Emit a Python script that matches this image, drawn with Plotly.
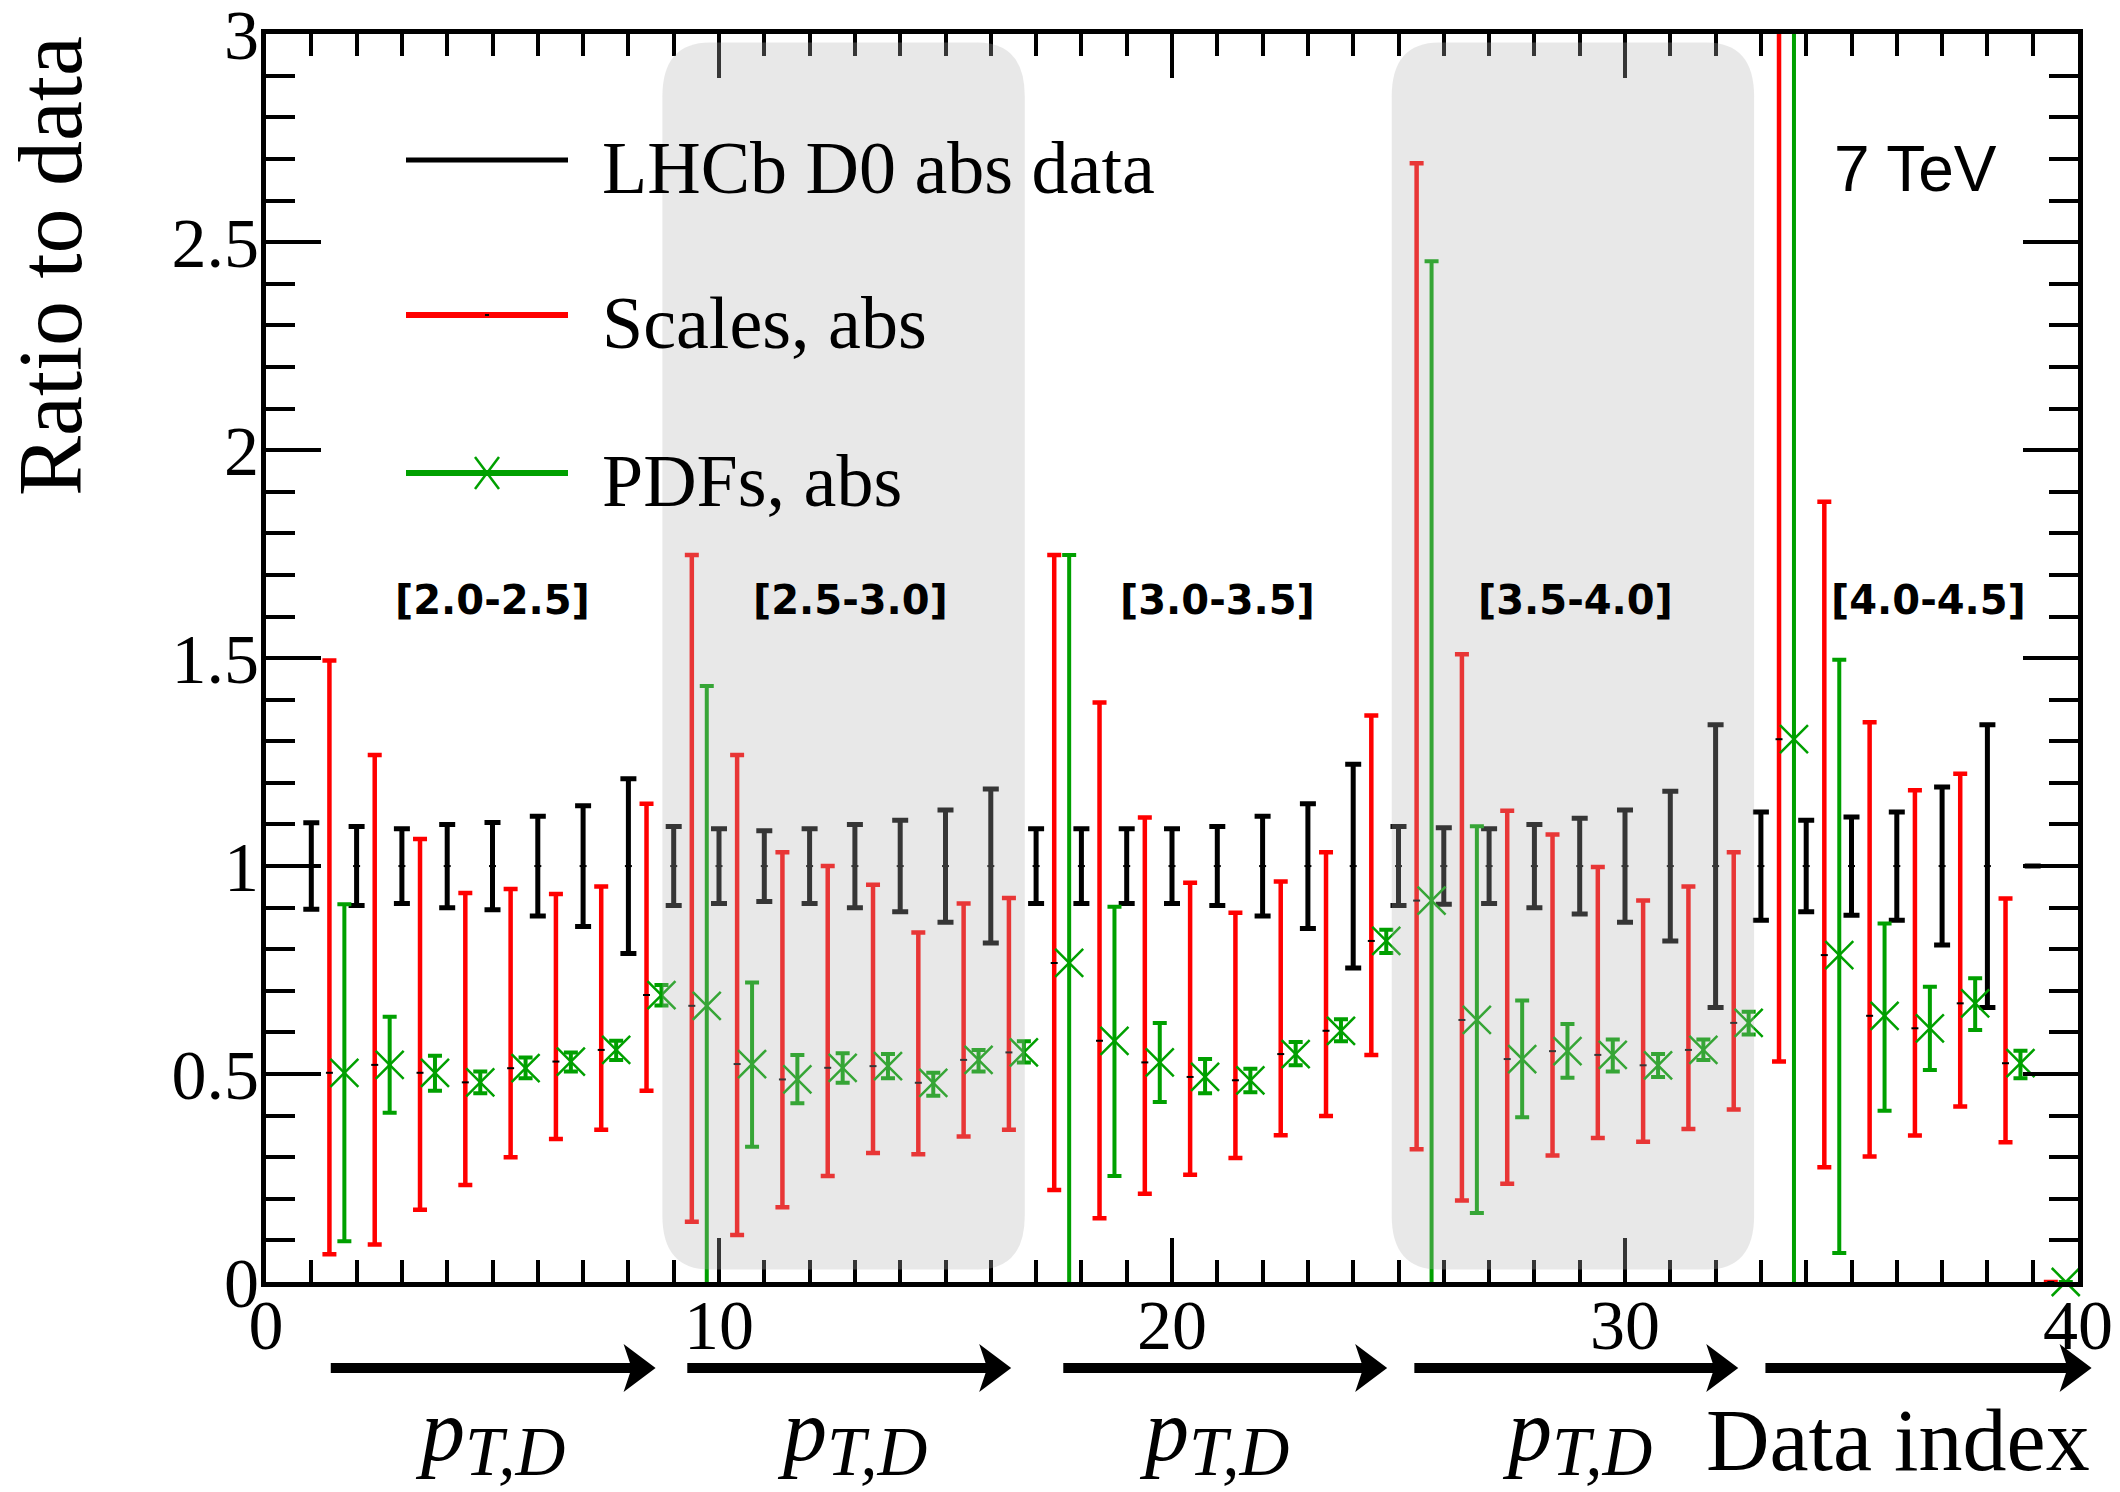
import plotly.graph_objects as go

# ---------------- data ----------------
idx = list(range(1, 40))

data_err = [0.104, 0.095, 0.09, 0.10, 0.105, 0.12, 0.145, 0.21,
            0.095, 0.09, 0.085, 0.09, 0.10, 0.11, 0.135, 0.185,
            0.09, 0.09, 0.09, 0.09, 0.095, 0.12, 0.15, 0.245,
            0.095, 0.092, 0.09, 0.10, 0.115, 0.135, 0.18, 0.34,
            0.13, 0.11, 0.118, 0.13, 0.19, 0.34, 0.0]

central = [0.503, 0.522, 0.503, 0.480, 0.514, 0.530, 0.558, 0.690,
           0.664, 0.524, 0.487, 0.515, 0.519, 0.479, 0.534, 0.552,
           0.767, 0.580, 0.528, 0.493, 0.485, 0.548, 0.604, 0.820,
           0.917, 0.630, 0.536, 0.555, 0.546, 0.521, 0.558, 0.623,
           1.305, 0.786, 0.640, 0.610, 0.670, 0.526, 0.0]

scale_hi = [1.494, 1.267, 1.065, 0.935, 0.945, 0.933, 0.951, 1.150,
            1.748, 1.267, 1.033, 1.000, 0.955, 0.840, 0.910, 0.923,
            1.748, 1.393, 1.117, 0.960, 0.888, 0.963, 1.033, 1.362,
            2.690, 1.509, 1.133, 1.076, 0.998, 0.917, 0.951, 1.033,
            3.500, 1.876, 1.346, 1.182, 1.222, 0.922, 0.0]
scale_lo = [0.067, 0.090, 0.174, 0.233, 0.300, 0.344, 0.366, 0.460,
            0.145, 0.113, 0.180, 0.255, 0.310, 0.307, 0.350, 0.366,
            0.221, 0.153, 0.212, 0.258, 0.298, 0.353, 0.399, 0.546,
            0.319, 0.196, 0.236, 0.304, 0.346, 0.337, 0.368, 0.415,
            0.530, 0.276, 0.302, 0.352, 0.422, 0.336, 0.0]

pdf_hi = [0.908, 0.638, 0.544, 0.506, 0.540, 0.552, 0.580, 0.714,
          1.433, 0.720, 0.546, 0.550, 0.548, 0.503, 0.558, 0.579,
          1.748, 0.902, 0.623, 0.536, 0.513, 0.577, 0.632, 0.847,
          2.454, 1.096, 0.677, 0.620, 0.583, 0.548, 0.583, 0.650,
          3.500, 1.496, 0.862, 0.710, 0.730, 0.556, 0.0]
pdf_lo = [0.098, 0.407, 0.460, 0.454, 0.490, 0.506, 0.534, 0.665,
          -0.10, 0.325, 0.430, 0.479, 0.490, 0.448, 0.506, 0.528,
          -0.10, 0.255, 0.433, 0.454, 0.456, 0.521, 0.579, 0.791,
          -0.10, 0.166, 0.396, 0.491, 0.506, 0.493, 0.534, 0.595,
          -0.10, 0.070, 0.412, 0.510, 0.606, 0.490, 0.0]

bin_labels = ["[2.0-2.5]", "[2.5-3.0]", "[3.0-3.5]", "[3.5-4.0]", "[4.0-4.5]"]
legend_names = ["LHCb D0 abs data", "Scales, abs", "PDFs, abs"]
y_tick_vals = [0, 0.5, 1, 1.5, 2, 2.5, 3]
y_tick_text = ["0", "0.5", "1", "1.5", "2", "2.5", "3"]
x_tick_vals = [0, 10, 20, 30, 40]
x_tick_text = ["0", "10", "20", "30", "40"]

# ---------------- layout constants ----------------
RED = "#ff0000"
GREEN = "#00a000"
SERIF = "Liberation Serif"
X_RED_OFF = 0.40
X_GREEN_OFF = 0.73
bin_label_x = [5.0, 12.9, 21.0, 28.9, 36.7]
bin_label_y = 1.64
shade_ranges = [(8.75, 16.75), (24.85, 32.85)]
arrow_ranges = [(1.43, 8.6), (9.3, 16.45), (17.6, 24.75), (25.35, 32.5), (33.1, 40.3)]
ptd_x = [5.0, 13.0, 21.0, 29.0]

W, H = 2120, 1492
ML, MR, MT, MB = 266, 42, 34, 210
PW, PH = W - ML - MR, H - MT - MB
XMAX = 40.0


def paper_x(px):
    return (px - ML) / PW


def paper_y(py):
    return (H - MB - py) / PH


fig = go.Figure()

# data (black)
fig.add_trace(go.Scatter(
    x=idx, y=[1.0] * len(idx), mode="markers",
    marker=dict(symbol="line-ew", size=5, color="black", line=dict(width=2, color="black")),
    error_y=dict(type="data", array=data_err, symmetric=True,
                 color="black", thickness=5, width=8),
    name=legend_names[0], showlegend=False))

# scales (red)
fig.add_trace(go.Scatter(
    x=[i + X_RED_OFF for i in idx], y=central, mode="markers",
    marker=dict(symbol="line-ew", size=5, color="black", line=dict(width=2, color="black")),
    error_y=dict(type="data", symmetric=False,
                 array=[h - c for h, c in zip(scale_hi, central)],
                 arrayminus=[c - l for c, l in zip(central, scale_lo)],
                 color=RED, thickness=4.5, width=7),
    name=legend_names[1], showlegend=False))

# pdfs (green) error bars
fig.add_trace(go.Scatter(
    x=[i + X_GREEN_OFF for i in idx], y=central, mode="markers",
    marker=dict(symbol="x-thin", size=1, color=GREEN, line=dict(width=1, color=GREEN), opacity=0),
    error_y=dict(type="data", symmetric=False,
                 array=[h - c for h, c in zip(pdf_hi, central)],
                 arrayminus=[c - l for c, l in zip(central, pdf_lo)],
                 color=GREEN, thickness=4, width=7),
    name=legend_names[2], showlegend=False))
# pdfs markers
fig.add_trace(go.Scatter(
    x=[i + X_GREEN_OFF for i in idx], y=central, mode="markers", cliponaxis=False,
    marker=dict(symbol="x-thin", size=28, color=GREEN, line=dict(width=2.5, color=GREEN)),
    showlegend=False, hoverinfo="skip"))

shapes = []
# grey rounded boxes (semi-transparent, above traces)
RX, RY = 1.05, 0.13
Y0, Y1 = 0.03, 2.98
for a, b in shade_ranges:
    p = (f"M {a+RX},{Y0} L {b-RX},{Y0} Q {b},{Y0} {b},{Y0+RY} "
         f"L {b},{Y1-RY} Q {b},{Y1} {b-RX},{Y1} L {a+RX},{Y1} "
         f"Q {a},{Y1} {a},{Y1-RY} L {a},{Y0+RY} Q {a},{Y0} {a+RX},{Y0} Z")
    shapes.append(dict(type="path", path=p, xref="x", yref="y", layer="above",
                       fillcolor="rgba(178,178,178,0.30)", line=dict(width=0)))

# arrows below the axis
ay = paper_y(1368)
hs = 5 / PH
hh = 24 / PH
hl = 32 / PW
for a, b in arrow_ranges:
    x1, x2 = a / XMAX, b / XMAX
    xb = x2 - hl
    xn = x2 - 0.8 * hl
    p = (f"M {x1},{ay-hs} L {xn},{ay-hs} L {xb},{ay-hh} L {x2},{ay} "
         f"L {xb},{ay+hh} L {xn},{ay+hs} L {x1},{ay+hs} Z")
    shapes.append(dict(type="path", path=p, xref="paper", yref="paper",
                       fillcolor="black", line=dict(width=0)))

# custom legend
leg_x0, leg_x1 = paper_x(406), paper_x(568)
leg_y = [paper_y(160), paper_y(315), paper_y(473)]
leg_col = ["black", RED, GREEN]
leg_w = [5, 6, 6]
for yy, cc, ww in zip(leg_y, leg_col, leg_w):
    shapes.append(dict(type="line", xref="paper", yref="paper", x0=leg_x0, x1=leg_x1,
                       y0=yy, y1=yy, line=dict(color=cc, width=ww)))
xm = (leg_x0 + leg_x1) / 2
shapes.append(dict(type="line", xref="paper", yref="paper", x0=xm - 2 / PW, x1=xm + 2 / PW,
                   y0=leg_y[1], y1=leg_y[1], line=dict(color="black", width=2)))
dx, dy = 12 / PW, 16 / PH
shapes.append(dict(type="line", xref="paper", yref="paper", x0=xm - dx, x1=xm + dx,
                   y0=leg_y[2] - dy, y1=leg_y[2] + dy, line=dict(color=GREEN, width=2.5)))
shapes.append(dict(type="line", xref="paper", yref="paper", x0=xm - dx, x1=xm + dx,
                   y0=leg_y[2] + dy, y1=leg_y[2] - dy, line=dict(color=GREEN, width=2.5)))

annotations = []
for yy, name in zip(leg_y, legend_names):
    annotations.append(dict(x=paper_x(600), y=yy - 8 / PH, xref="paper", yref="paper",
                            text=name, showarrow=False, xanchor="left", yanchor="middle",
                            font=dict(family=SERIF, size=74, color="black")))

for lx, lab in zip(bin_label_x, bin_labels):
    annotations.append(dict(x=lx, y=bin_label_y, xref="x", yref="y", text=f"<b>{lab}</b>",
                            showarrow=False, xanchor="center", yanchor="middle",
                            font=dict(family="DejaVu Sans", size=40, color="black")))

annotations.append(dict(x=paper_x(1915), y=paper_y(169), xref="paper", yref="paper",
                        text="7 TeV", showarrow=False, xanchor="center", yanchor="middle",
                        font=dict(family="Liberation Sans", size=64, color="black")))

# p_{T,D} labels: "p" and subscript drawn as two pieces
for px_ in ptd_x:
    cx = ML + px_ / XMAX * PW
    annotations.append(dict(x=paper_x(cx - 53), y=paper_y(1430), xref="paper", yref="paper",
                            text="<i>p</i>", showarrow=False,
                            xanchor="center", yanchor="middle",
                            font=dict(family=SERIF, size=88, color="black")))
    annotations.append(dict(x=paper_x(cx + 22), y=paper_y(1452), xref="paper", yref="paper",
                            text="<i>T,D</i>", showarrow=False,
                            xanchor="center", yanchor="middle",
                            font=dict(family=SERIF, size=69, color="black")))

annotations.append(dict(x=paper_x(2092), y=paper_y(1440), xref="paper", yref="paper",
                        text="Data index", showarrow=False, xanchor="right", yanchor="middle",
                        font=dict(family=SERIF, size=88, color="black")))

annotations.append(dict(x=paper_x(50), y=1.0, xref="paper", yref="paper",
                        text="Ratio to data", showarrow=False, textangle=-90,
                        xanchor="center", yanchor="top",
                        font=dict(family=SERIF, size=90, color="black")))

fig.update_layout(
    width=W, height=H,
    margin=dict(l=ML, r=MR, t=MT, b=MB, pad=0, autoexpand=False),
    paper_bgcolor="white", plot_bgcolor="white",
    shapes=shapes, annotations=annotations, showlegend=False,
    xaxis=dict(range=[0, XMAX], showgrid=False, zeroline=False, automargin=False,
               showline=True, linecolor="black", linewidth=5, mirror="allticks",
               ticks="inside", ticklen=44, tickwidth=4, tickcolor="black",
               tickmode="array", tickvals=x_tick_vals, ticktext=x_tick_text,
               ticklabelstandoff=-22, ticklabeloverflow="allow",
               minor=dict(dtick=1, tick0=0, ticks="inside", ticklen=22, tickwidth=4, tickcolor="black"),
               tickfont=dict(family=SERIF, size=70, color="black")),
    yaxis=dict(range=[0, 3.0005], showgrid=False, zeroline=False, automargin=False,
               showline=True, linecolor="black", linewidth=5, mirror="allticks",
               ticks="inside", ticklen=55, tickwidth=4, tickcolor="black",
               tickmode="array", tickvals=y_tick_vals, ticktext=y_tick_text,
               ticklabelstandoff=-12, ticklabeloverflow="allow",
               minor=dict(dtick=0.1, tick0=0, ticks="inside", ticklen=29, tickwidth=4, tickcolor="black"),
               tickfont=dict(family=SERIF, size=70, color="black")),
)

fig.write_html("out.html")
